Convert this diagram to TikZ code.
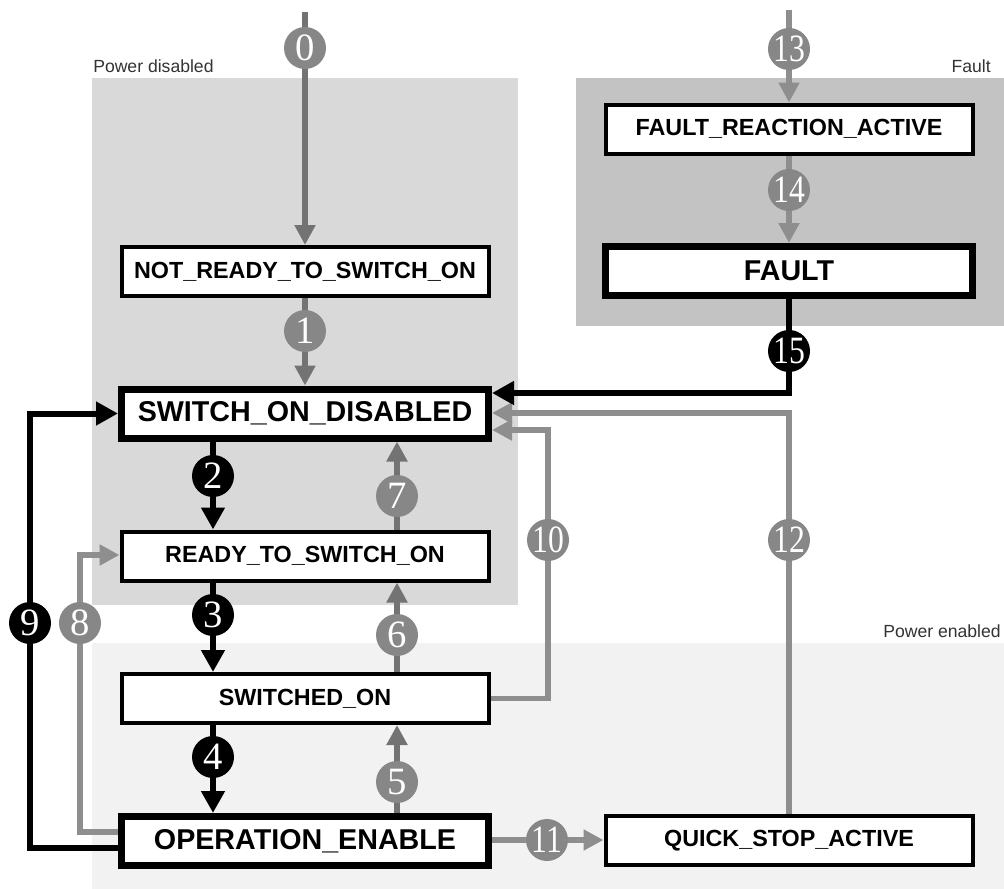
\documentclass[tikz,border=0pt]{standalone}
\usepackage{fontspec}
\setmainfont{Liberation Sans}
\newfontfamily\numfont{Liberation Serif}
\newfontfamily\numnarrow[FakeStretch=0.82]{Liberation Serif}
\usetikzlibrary{arrows.meta}

\definecolor{zonedis}{HTML}{D9D9D9}
\definecolor{zonefault}{HTML}{C3C3C3}
\definecolor{zoneen}{HTML}{F2F2F2}
\definecolor{flowdark}{HTML}{737373}
\definecolor{flowlight}{HTML}{8E8E8E}
\definecolor{numgray}{HTML}{878787}
\definecolor{zonetext}{HTML}{333333}

\tikzset{
  zonelabel/.style={font=\fontsize{13.2}{13.2}\selectfont, text=zonetext, inner sep=0pt},
  statebox/.style={draw=black, fill=white, line width=3pt,
    minimum width=275.25pt, minimum height=36.75pt, inner sep=0pt,
    font=\bfseries\fontsize{17.5}{17.5}\selectfont},
  mainbox/.style={statebox, line width=5.25pt,
    font=\bfseries\fontsize{21.5}{21.5}\selectfont},
  darkflow/.style={draw=flowdark, line width=4.1pt, -{Triangle[length=15pt,width=15pt]}},
  lightflow/.style={draw=flowlight, line width=4pt, -{Triangle[length=15pt,width=15pt]}},
  blackflow/.style={draw=black, line width=4.5pt, -{Triangle[length=16.5pt,width=17pt]}},
  tnum/.style={circle, fill=numgray, minimum size=31.5pt, inner sep=0pt,
    text=white, font=\numfont\fontsize{29}{29}\selectfont},
  bnum/.style={tnum, fill=black},
  wide/.style={font=\numnarrow\fontsize{29}{29}\selectfont},
}

\begin{document}
\begin{tikzpicture}[x=0.75pt, y=-0.75pt]
\useasboundingbox (0,0) rectangle (1004,889);

% power zones
\fill[zonedis] (92,78) rectangle (518,605);
\fill[zonefault] (576,78) rectangle (1004,326);
\fill[zoneen] (92,643) rectangle (1004,889);
\node[zonelabel, anchor=base west] (lblpd) at (93,72) {Power disabled};
\node[zonelabel, anchor=base east] (lblf) at (991,72) {Fault};
\node[zonelabel, anchor=base east] (lblpe) at (1001,637) {Power enabled};

% states
\node[statebox] (nrtso) at (305,271.5) {NOT\_READY\_TO\_SWITCH\_ON};
\node[mainbox]  (sod)   at (305,413.5) {SWITCH\_ON\_DISABLED};
\node[statebox] (rtso)  at (305,556)   {READY\_TO\_SWITCH\_ON};
\node[statebox] (swo)   at (305,698.5) {SWITCHED\_ON};
\node[mainbox]  (oe)    at (305,841)   {OPERATION\_ENABLE};
\node[statebox] (qsa)   at (789,840.5) {QUICK\_STOP\_ACTIVE};
\node[statebox] (fra)   at (789,129)   {FAULT\_REACTION\_ACTIVE};
\node[mainbox]  (fault) at (789,271)   {FAULT};

% entry points
\coordinate (in0) at (305,12);
\coordinate (in13) at (789,10);
\coordinate (colL) at (213,0);
\coordinate (colR) at (397,0);

% transitions
\draw[darkflow] (in0) -- (nrtso.north);
\draw[darkflow] (nrtso.south) -- (sod.north);
\draw[blackflow] (sod.south -| colL) -- (rtso.north -| colL);
\draw[blackflow] (rtso.south -| colL) -- (swo.north -| colL);
\draw[blackflow] (swo.south -| colL) -- (oe.north -| colL);
\draw[darkflow] (oe.north -| colR) -- (swo.south -| colR);
\draw[darkflow] (swo.north -| colR) -- (rtso.south -| colR);
\draw[darkflow] (rtso.north -| colR) -- (sod.south -| colR);
\draw[lightflow] (oe.west |- 0,832) -| (80,555) -- (rtso.west |- 0,555);
\draw[blackflow] (oe.west |- 0,848) -| (30,413.5) -- (sod.west);
\draw[lightflow] (swo.east) -| (548,430) -- (sod.east |- 0,430);
\draw[lightflow] (oe.east |- 0,840) -- (qsa.west |- 0,840);
\draw[lightflow] (qsa.north) |- (sod.east |- 0,413);
\draw[lightflow] (in13) -- (fra.north);
\draw[lightflow] (fra.south) -- (fault.north);
\draw[blackflow] (fault.south) |- (sod.east |- 0,393);

% transition numbers
\node[tnum] (n0)  at (305,48)  {0};
\node[tnum] (n1)  at (305,331) {1};
\node[bnum] (n2)  at (213,476) {2};
\node[bnum] (n3)  at (213,615) {3};
\node[bnum] (n4)  at (213,757) {4};
\node[tnum] (n5)  at (397,782) {5};
\node[tnum] (n6)  at (397,635) {6};
\node[tnum] (n7)  at (397,496) {7};
\node[tnum] (n8)  at (80,623)  {8};
\node[bnum] (n9)  at (30,623)  {9};
\node[tnum, wide] (n10) at (548,540) {10};
\node[tnum, wide] (n11) at (547,840) {11};
\node[tnum, wide] (n12) at (789,540) {12};
\node[tnum, wide] (n13) at (789,49)  {13};
\node[tnum, wide] (n14) at (789,190) {14};
\node[bnum, wide] (n15) at (789,351) {15};
\end{tikzpicture}
\end{document}
